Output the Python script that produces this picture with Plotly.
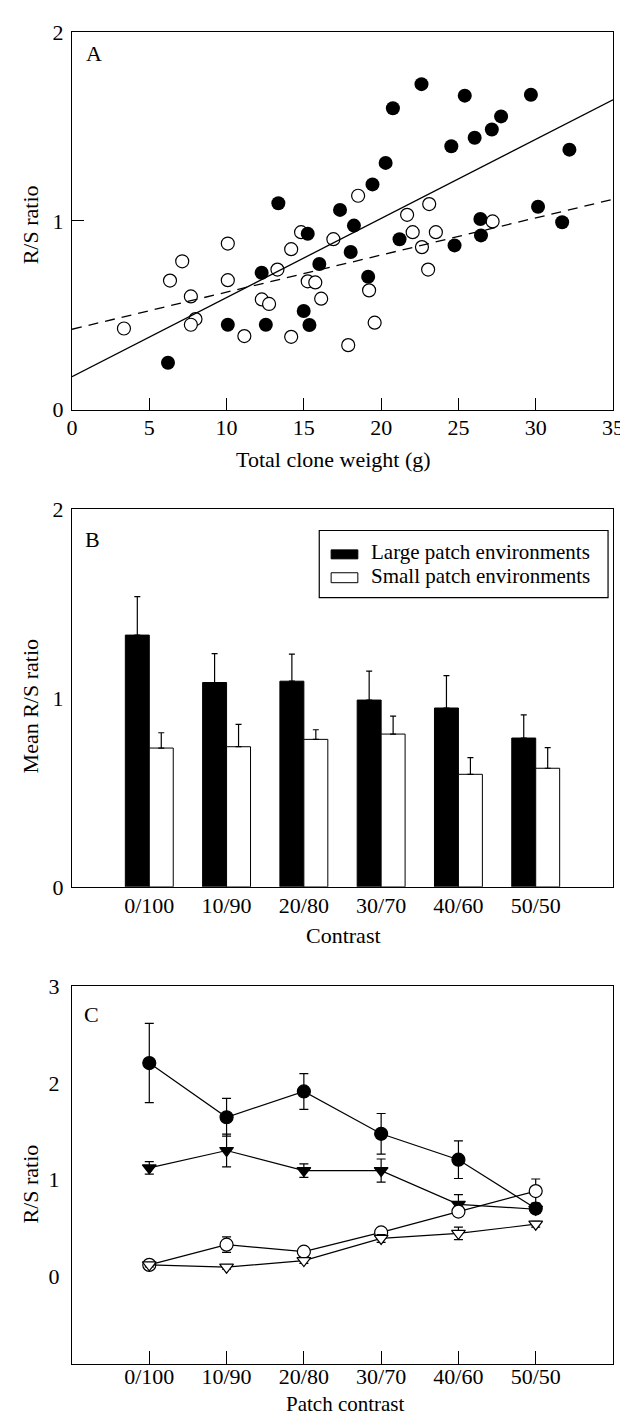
import plotly.graph_objects as go

# ---------------- Panel A data ----------------
open_x = [3.36, 6.34, 7.13, 7.69, 7.99, 7.69, 10.08, 10.08, 11.15, 12.28, 12.75, 13.29, 14.18, 14.18, 14.82,
          15.25, 15.74, 16.12, 16.91, 18.51, 19.22, 19.58, 17.87, 21.68, 22.04, 22.64, 23.11, 23.54, 23.04, 27.21]
open_y = [0.43, 0.684, 0.786, 0.60, 0.48, 0.45, 0.88, 0.686, 0.39, 0.584, 0.56, 0.742, 0.85, 0.386, 0.94,
          0.68, 0.674, 0.588, 0.903, 1.133, 0.632, 0.461, 0.342, 1.032, 0.94, 0.861, 1.089, 0.94, 0.742, 0.997]
filled_x = [6.21, 10.08, 12.27, 13.35, 12.54, 14.99, 15.36, 15.25, 16.0, 17.34, 18.24, 18.03, 19.16, 19.44, 20.29,
            20.76, 22.61, 21.19, 24.54, 24.75, 25.41, 26.05, 26.42, 26.46, 27.16, 27.76, 29.69, 30.15, 31.71, 32.18]
filled_y = [0.249, 0.45, 0.725, 1.093, 0.45, 0.523, 0.449, 0.932, 0.772, 1.058, 0.975, 0.835, 0.704, 1.193, 1.307,
            1.596, 1.724, 0.903, 1.395, 0.87, 1.663, 1.44, 1.01, 0.923, 1.484, 1.553, 1.668, 1.075, 0.993, 1.377]
fit_x_range = [0, 35]
fit_solid = [0.175, 0.0419]   # intercept, slope
fit_dashed = [0.426, 0.01966]

# ---------------- Panel B data ----------------
contrast_labels = ["0/100", "10/90", "20/80", "30/70", "40/60", "50/50"]
large_mean = [1.333, 1.082, 1.089, 0.989, 0.947, 0.788]
large_err = [0.204, 0.153, 0.143, 0.153, 0.171, 0.123]
small_mean = [0.735, 0.742, 0.781, 0.809, 0.596, 0.628]
small_err = [0.081, 0.118, 0.051, 0.095, 0.088, 0.109]

# ---------------- Panel C data ----------------
fc_y = [2.205, 1.644, 1.911, 1.473, 1.205, 0.699]
fc_err = [0.41, 0.195, 0.185, 0.21, 0.195, 0.05]
ft_y = [1.12, 1.30, 1.092, 1.092, 0.743, 0.692]
ft_err = [0.065, 0.17, 0.07, 0.12, 0.10, 0.04]
oc_y = [0.116, 0.325, 0.253, 0.452, 0.668, 0.88]
oc_err = [0.03, 0.08, 0.03, 0.03, 0.05, 0.125]
ot_y = [0.116, 0.092, 0.161, 0.39, 0.442, 0.537]
ot_err = [0.02, 0.02, 0.03, 0.04, 0.065, 0.03]

FONT = "Liberation Serif"
FS = 22
W, H = 628, 1415
L, R, T, B = 64, 17, 16, 59


def px2x(px):
    return (px - L) / (W - L - R)


def px2y(py):
    return (H - B - py) / (H - T - B)


idx = list(range(len(contrast_labels)))
fig = go.Figure()

# Panel A
fig.add_trace(go.Scatter(x=open_x, y=open_y, mode="markers", xaxis="x", yaxis="y",
                         marker=dict(symbol="circle", size=13, color="white", line=dict(color="black", width=1.2)),
                         showlegend=False))
fig.add_trace(go.Scatter(x=filled_x, y=filled_y, mode="markers", xaxis="x", yaxis="y",
                         marker=dict(symbol="circle", size=14, color="black", line=dict(color="black", width=0)),
                         showlegend=False))
fig.add_trace(go.Scatter(x=fit_x_range, y=[fit_solid[0] + fit_solid[1] * v for v in fit_x_range], mode="lines",
                         xaxis="x", yaxis="y", line=dict(color="black", width=1.3), showlegend=False))
fig.add_trace(go.Scatter(x=fit_x_range, y=[fit_dashed[0] + fit_dashed[1] * v for v in fit_x_range], mode="lines",
                         xaxis="x", yaxis="y", line=dict(color="black", width=1.3, dash="10px,7px"),
                         showlegend=False))

# Panel B
fig.add_trace(go.Bar(x=idx, y=large_mean, xaxis="x2", yaxis="y2", name="Large patch environments",
                     marker=dict(color="black", line=dict(color="black", width=1)),
                     error_y=dict(type="data", array=large_err, arrayminus=[0] * 6, symmetric=False,
                                  color="black", thickness=1.2, width=3),
                     showlegend=False))
fig.add_trace(go.Bar(x=idx, y=small_mean, xaxis="x2", yaxis="y2", name="Small patch environments",
                     marker=dict(color="white", line=dict(color="black", width=1)),
                     error_y=dict(type="data", array=small_err, arrayminus=[0] * 6, symmetric=False,
                                  color="black", thickness=1.2, width=3),
                     showlegend=False))

# Panel C
def line_trace(yv, err, symbol, fill, size):
    return go.Scatter(x=idx, y=yv, mode="lines+markers", xaxis="x3", yaxis="y3",
                      line=dict(color="black", width=1.2),
                      marker=dict(symbol=symbol, size=size, color=fill, line=dict(color="black", width=1.2)),
                      error_y=dict(type="data", array=err, color="black", thickness=1.2, width=4.5),
                      showlegend=False)

fig.add_trace(line_trace(fc_y, fc_err, "circle", "black", 13))
fig.add_trace(line_trace(ft_y, ft_err, "triangle-down", "black", 12))
fig.add_trace(line_trace(oc_y, oc_err, "circle", "white", 13))
fig.add_trace(line_trace(ot_y, ot_err, "triangle-down", "white", 12))

axis_common = dict(showline=True, linecolor="black", linewidth=1.2, mirror=True, showgrid=False,
                   zeroline=False, tickfont=dict(family=FONT, size=FS, color="black"),
                   tickcolor="black", tickwidth=1.2)

dA = [px2y(396), px2y(16)]
dB = [px2y(876), px2y(496)]
dC = [px2y(1356), px2y(976)]

fig.update_layout(
    width=W, height=H, autosize=False,
    margin=dict(l=L, r=R, t=T, b=B),
    paper_bgcolor="white", plot_bgcolor="white",
    font=dict(family=FONT, size=FS, color="black"),
    bargap=0.38, bargroupgap=0, barmode="group",
    xaxis=dict(axis_common, domain=[0, 1], anchor="y", range=[0, 35], tickvals=[0, 5, 10, 15, 20, 25, 30, 35],
               ticks="inside", ticklen=12, ticklabelstandoff=-2),
    yaxis=dict(axis_common, domain=dA, anchor="x", range=[0, 2], tickvals=[0, 1, 2],
               ticks="inside", ticklen=12, ticklabelstandoff=3),
    xaxis2=dict(axis_common, domain=[0, 1], anchor="y2", range=[-1, 6], tickvals=idx, ticktext=contrast_labels,
                ticks="", ticklabelstandoff=-1),
    yaxis2=dict(axis_common, domain=dB, anchor="x2", range=[0, 2], tickvals=[0, 1, 2], ticks="",
                ticklabelstandoff=3),
    xaxis3=dict(axis_common, domain=[0, 1], anchor="y3", range=[-1, 6], tickvals=idx, ticktext=contrast_labels,
                ticks="inside", ticklen=13, ticklabelstandoff=-8),
    yaxis3=dict(axis_common, domain=dC, anchor="x3", range=[-0.91, 3], tickvals=[0, 1, 2, 3], ticks="",
                ticklabelstandoff=7),
)

annos = []
def text(t, px, py, xanchor="center", yanchor="middle", angle=0, size=FS):
    annos.append(dict(text=t, x=px2x(px), y=px2y(py), xref="paper", yref="paper", showarrow=False,
                      xanchor=xanchor, yanchor=yanchor, textangle=angle,
                      font=dict(family=FONT, size=size, color="black")))

# panel letters
text("A", 76, 23, "left", "top")
text("B", 75, 512, "left", "top")
text("C", 74, 990, "left", "top")
# axis titles
text("Total clone weight (g)", 328, 446)
text("R/S ratio", 22, 210, angle=-90)
text("Contrast", 339, 925)
text("Mean R/S ratio", 22, 694, angle=-90)
text("Patch contrast", 341, 1396, size=21)
text("R/S ratio", 22, 1175, angle=-90)
# legend text
text("Large patch environments", 364, 539, "left", "middle", size=21)
text("Small patch environments", 364, 563, "left", "middle", size=21)

shapes = [
    dict(type="rect", xref="paper", yref="paper", x0=px2x(314), x1=px2x(606), y0=px2y(585), y1=px2y(517.5),
         line=dict(color="black", width=1.2), fillcolor="white", layer="above"),
    dict(type="rect", xref="paper", yref="paper", x0=px2x(326), x1=px2x(353), y0=px2y(546), y1=px2y(537),
         line=dict(color="black", width=1), fillcolor="black", layer="above"),
    dict(type="rect", xref="paper", yref="paper", x0=px2x(326), x1=px2x(353), y0=px2y(570), y1=px2y(560),
         line=dict(color="black", width=1), fillcolor="white", layer="above"),
]
fig.update_layout(annotations=annos, shapes=shapes)

fig.write_html("out.html")
